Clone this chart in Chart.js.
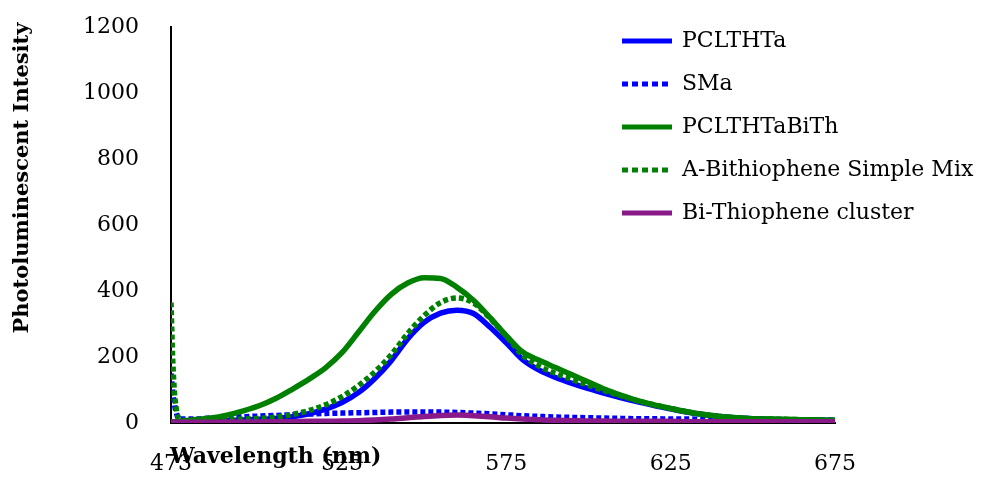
<!DOCTYPE html>
<html lang="en">
<head>
  <meta charset="UTF-8" />
  <title>Photoluminescence spectra</title>
  <style>
    html, body {
      margin: 0;
      padding: 0;
      background: #fff;
    }

    #wrap {
      width: 982px;
      height: 477px;
    }
  </style>
</head>
<body>
  <div id="wrap">
    <canvas id="plChart" width="982" height="477"></canvas>
  </div>

  <script src="https://cdn.jsdelivr.net/npm/chart.js"></script>
  <script>
    // Wavelength (nm)
    const wavelength = [473, 473.5, 474, 474.5, 475.5, 480, 485, 490, 495, 500, 505, 510, 515, 520, 525, 530, 535, 540, 545, 550,
      555, 560, 565, 570, 575, 580, 585, 590, 595, 600, 605, 610, 615, 620, 625, 630, 635, 640, 645, 650, 655, 660, 665, 670, 675];

    const pclthta = [4, 4, 3, 3, 3, 4, 5, 7, 9, 11, 14, 19, 28, 42, 62, 92, 135, 189, 255, 305,
      333, 342, 332, 291, 243, 192, 160, 138, 120, 104, 90, 76, 64, 53, 43, 33, 26, 20, 16, 13, 11, 10, 9, 8, 7];

    const sma = [150, 95, 60, 35, 12, 12, 15, 17, 19, 21, 23, 25, 27, 29, 30, 31, 32, 33, 33, 33,
      33, 32, 30, 28, 25, 22, 20, 18, 17, 16, 15, 14, 13, 13, 12, 12, 11, 11, 10, 10, 10, 9, 9, 9, 9];

    const pclthtaBith = [3, 3, 3, 4, 5, 10, 15, 24, 37, 53, 75, 103, 133, 167, 213, 275, 338, 390, 424, 440,
      438, 411, 372, 320, 265, 215, 190, 168, 146, 124, 102, 84, 68, 55, 44, 34, 26, 20, 16, 13, 12, 11, 10, 9, 8];

    const bithMix = [365, 200, 100, 50, 12, 6, 6, 9, 12, 14, 18, 26, 38, 55, 80, 113, 155, 207, 271, 325,
      365, 379, 364, 318, 263, 205, 172, 150, 132, 114, 97, 82, 67, 55, 44, 34, 26, 20, 16, 13, 12, 11, 10, 9, 8];

    const bithCluster = [2, 2, 2, 2, 2, 2, 2, 3, 3, 3, 4, 4, 5, 5, 6, 7, 9, 12, 16, 20,
      23, 24, 22, 19, 15, 12, 10, 8, 7, 6, 6, 5, 5, 5, 5, 4, 4, 4, 4, 4, 4, 4, 4, 4, 4];

    const seriesNames = ['PCLTHTa', 'SMa', 'PCLTHTaBiTh', 'A-Bithiophene Simple Mix', 'Bi-Thiophene cluster'];
    const xTicks = [473, 525, 575, 625, 675];

    const serif = "'DejaVu Serif', serif";

    function toPoints(ys) {
      return wavelength.map((x, i) => ({ x: x, y: ys[i] }));
    }

    function serie(i, ys, color, dotted) {
      return {
        label: seriesNames[i],
        data: toPoints(ys),
        borderColor: color,
        backgroundColor: color,
        borderWidth: 5.5,
        borderDash: dotted ? [5, 3] : [],
        dotted: dotted,
        pointRadius: 0,
        cubicInterpolationMode: 'monotone',
        order: 5 - i  // later series on top, like the original
      };
    }

    // legend + axis titles drawn over the plot
    const overlay = {
      id: 'overlay',
      afterDraw(chart) {
        const c = chart.ctx;
        c.save();
        c.fillStyle = '#000';
        c.font = 'bold 22px ' + serif;
        c.textBaseline = 'middle';
        c.textAlign = 'left';
        c.fillText('Wavelength (nm)', 170, 457);

        c.font = 'bold 21px ' + serif;
        c.translate(23, 178);
        c.rotate(-Math.PI / 2);
        c.textAlign = 'center';
        c.fillText('Photoluminescent Intesity', 0, 0);
        c.restore();

        c.save();
        c.font = '22px ' + serif;
        c.textBaseline = 'middle';
        c.textAlign = 'left';
        chart.data.datasets.forEach((ds, i) => {
          const y = 41 + i * 43;
          c.strokeStyle = ds.borderColor;
          c.lineWidth = 5;
          c.setLineDash(ds.dotted ? [6, 4] : []);
          c.beginPath();
          c.moveTo(622, y);
          c.lineTo(ds.dotted ? 668 : 672, y);
          c.stroke();
          c.setLineDash([]);
          c.fillStyle = '#000';
          c.fillText(ds.label, 682, y);
        });
        c.restore();
      }
    };

    const chart = new Chart(document.getElementById('plChart'), {
      type: 'line',
      data: {
        datasets: [
          serie(0, pclthta, '#0000ff', false),
          serie(1, sma, '#0000ff', true),
          serie(2, pclthtaBith, '#008000', false),
          serie(3, bithMix, '#008000', true),
          serie(4, bithCluster, '#8a1a8a', false)
        ]
      },
      options: {
        responsive: false,
        animation: false,
        layout: { padding: { top: 27, right: 147, bottom: 0, left: 0 } },
        plugins: {
          legend: { display: false },
          tooltip: { enabled: false }
        },
        scales: {
          x: {
            type: 'linear',
            min: 473,
            max: 675,
            afterBuildTicks: axis => { axis.ticks = xTicks.map(v => ({ value: v })); },
            afterFit: axis => { axis.height = 54; },
            grid: { display: false },
            border: { color: '#000', width: 2 },
            ticks: { color: '#000', padding: 20, maxRotation: 0, autoSkip: false, font: { family: serif, size: 22 } }
          },
          y: {
            min: 0,
            max: 1200,
            afterFit: axis => {
              axis.width = 171;
              // tick padding is only meant horizontally here
              axis.paddingTop = 0;
              axis.paddingBottom = 0;
            },
            grid: { display: false },
            border: { color: '#000', width: 2 },
            ticks: {
              stepSize: 200, color: '#000', padding: 24, font: { family: serif, size: 22 },
              callback: v => String(v)
            }
          }
        }
      },
      plugins: [overlay]
    });
  </script>
</body>
</html>
